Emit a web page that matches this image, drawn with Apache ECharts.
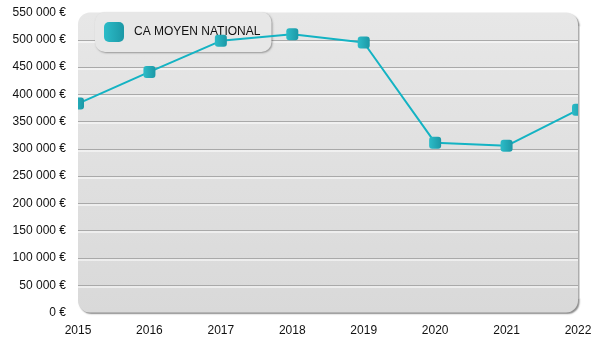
<!DOCTYPE html>
<html>
<head>
<meta charset="utf-8">
<script src="https://cdn.jsdelivr.net/npm/echarts@6/dist/echarts.min.js"></script>
<style>
  html, body { margin: 0; padding: 0; background: #fff; }
  #chart { width: 600px; height: 350px; }
</style>
</head>
<body>
<div id="chart"></div>
<script>
// Chiffre d'affaires moyen national par année
const years = ['2015', '2016', '2017', '2018', '2019', '2020', '2021', '2022'];
const caMoyen = [383000, 441000, 498000, 510000, 495000, 311000, 305500, 371500];
const seriesName = 'CA MOYEN NATIONAL';

const yMin = 0, yMax = 550000, yStep = 50000;

// Plot frame
const G = { left: 78, right: 22, top: 12.5, bottom: 37.5 };
const W = 600, H = 350;
const plotW = W - G.left - G.right;
const plotH = H - G.top - G.bottom;

function euro(v) {
  return String(v).replace(/\B(?=(\d{3})+(?!\d))/g, ' ') + ' €';
}

const teal = new echarts.graphic.LinearGradient(0, 0, 1, 0, [
  { offset: 0, color: '#2cbcc8' },
  { offset: 1, color: '#1c98a6' }
]);

// Split line colours: hide the ones on the frame edges
const nLines = (yMax - yMin) / yStep + 1;
const splitColors = [];
for (let i = 0; i < nLines; i++) {
  splitColors.push(i === 0 || i === nLines - 1 ? 'rgba(0,0,0,0)' : '#a9a9a9');
}

const chart = echarts.init(document.getElementById('chart'), null, { renderer: 'canvas' });
chart.setOption({
  animation: false,
  textStyle: { fontFamily: 'Liberation Sans, Arial, sans-serif' },
  grid: { left: G.left, right: G.right, top: G.top, bottom: G.bottom, containLabel: false },
  graphic: [
    {
      // rounded panel behind the plot
      type: 'rect',
      z: -10,
      silent: true,
      shape: { x: G.left, y: G.top, width: plotW, height: plotH, r: 12 },
      style: {
        fill: new echarts.graphic.LinearGradient(0, 0, 0, 1, [
          { offset: 0, color: '#e7e7e7' },
          { offset: 1, color: '#d9d9d9' }
        ]),
        shadowColor: 'rgba(0,0,0,0.45)',
        shadowBlur: 1.5,
        shadowOffsetX: 1.5,
        shadowOffsetY: 1.5
      }
    },
    {
      // trims the markers that overflow the left edge of the panel
      type: 'rect',
      z: 50,
      silent: true,
      shape: { x: G.left - 10, y: G.top + 14, width: 10, height: plotH - 28 },
      style: { fill: '#ffffff' }
    },
    {
      // trims the markers that overflow the right edge of the panel
      type: 'rect',
      z: 50,
      silent: true,
      shape: { x: G.left + plotW, y: G.top + 14, width: 12, height: plotH - 28 },
      style: { fill: '#ffffff' }
    },
    {
      // redraws the panel's right-hand shadow edge over the trim
      type: 'line',
      z: 51,
      silent: true,
      shape: { x1: G.left + plotW + 0.75, y1: G.top + 14, x2: G.left + plotW + 0.75, y2: G.top + plotH - 14 },
      style: { stroke: 'rgba(0,0,0,0.32)', lineWidth: 1.5 }
    }
  ],
  legend: {
    left: 95,
    top: 12,
    z: 1,
    padding: [10, 11, 10, 9],
    itemWidth: 20,
    itemHeight: 20,
    backgroundColor: '#e7e7e7',
    borderRadius: 10,
    shadowColor: 'rgba(0,0,0,0.35)',
    shadowBlur: 2,
    shadowOffsetX: 1,
    shadowOffsetY: 1,
    textStyle: { color: '#111', fontSize: 12, padding: [0, 0, 0, 5], fontFamily: 'Liberation Sans, Arial, sans-serif' },
    data: [{ name: seriesName, icon: 'roundRect', itemStyle: { color: teal } }]
  },
  xAxis: {
    type: 'category',
    data: years,
    boundaryGap: false,
    axisLine: { show: false },
    axisTick: { show: false },
    axisLabel: { color: '#111', fontSize: 12, margin: 12 },
    splitLine: { show: false }
  },
  yAxis: {
    type: 'value',
    min: yMin,
    max: yMax,
    interval: yStep,
    axisLine: { show: false },
    axisTick: { show: false },
    axisLabel: { color: '#111', fontSize: 12, margin: 12, formatter: euro },
    splitLine: {
      show: true,
      lineStyle: {
        color: splitColors,
        width: 1,
        shadowColor: '#ffffff',
        shadowOffsetY: 1.5,
        shadowBlur: 0
      }
    }
  },
  series: [{
    name: seriesName,
    type: 'line',
    z: 2,
    data: caMoyen,
    clip: true,
    symbol: 'roundRect',
    symbolSize: 12,
    showSymbol: true,
    lineStyle: { color: '#14b3c3', width: 2 },
    itemStyle: { color: teal }
  }]
});
</script>
</body>
</html>
